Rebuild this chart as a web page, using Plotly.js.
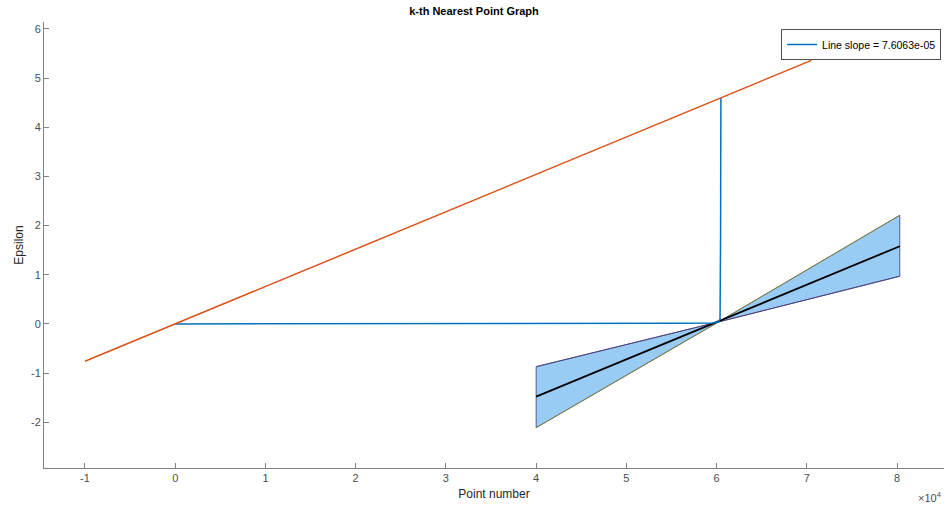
<!DOCTYPE html>
<html>
<head>
<meta charset="utf-8">
<script src="https://cdn.plot.ly/plotly-3.0.1.min.js"></script>
<style>html,body{margin:0;padding:0;background:#fff;}#chart{width:948px;height:508px;}</style>
</head>
<body>
<div id="chart"></div>
<script>
// k-distance curve (sorted)
const kdistX = [0, 20000, 40000, 40100, 55000, 59500, 60200, 60380, 60400, 60420, 60440, 60460, 60480];
const kdistY = [0, 0.0, 0.0, 0.01, 0.015, 0.02, 0.04, 0.1, 0.5, 1.7, 1.8, 3.6, 4.6];
// fitted reference line through origin
const slopeLineX = [-10000, 70500];
const slopeLineY = [-0.76, 5.36];
// confidence bow-tie
const fitX = [40000, 80300];
const fitY = [-1.48, 1.58];
const steepX = [40000, 60200, 80300];
const steepY = [-2.11, 0.04, 2.21];
const shallowX = [40000, 60200, 80300];
const shallowY = [-0.87, 0.04, 0.97];
const leftWingX = [40000, 40000, 60200, 40000];
const leftWingY = [-0.87, -2.11, 0.04, -0.87];
const rightWingX = [80300, 80300, 60200, 80300];
const rightWingY = [2.21, 0.97, 0.04, 2.21];
const legendLabel = 'Line slope = 7.6063e-05';
const xTickVals = [-10000, 0, 10000, 20000, 30000, 40000, 50000, 60000, 70000, 80000];
const xTickText = ['-1', '0', '1', '2', '3', '4', '5', '6', '7', '8'];
const yTickVals = [-2, -1, 0, 1, 2, 3, 4, 5, 6];
const yTickText = ['-2', '-1', '0', '1', '2', '3', '4', '5', '6'];

const fillCol = 'rgb(153,204,245)';
const traces = [
  {x: leftWingX, y: leftWingY, mode: 'lines', fill: 'toself', fillcolor: fillCol,
   line: {color: '#3a3a6a', width: 0.8}, showlegend: false, hoverinfo: 'skip'},
  {x: rightWingX, y: rightWingY, mode: 'lines', fill: 'toself', fillcolor: fillCol,
   line: {color: '#3a3a6a', width: 0.8}, showlegend: false, hoverinfo: 'skip'},
  {x: steepX, y: steepY, mode: 'lines', line: {color: '#8a8a30', width: 0.8}, showlegend: false},
  {x: shallowX, y: shallowY, mode: 'lines', line: {color: '#4a3a7a', width: 0.8}, showlegend: false},
  {x: fitX, y: fitY, mode: 'lines', line: {color: '#000000', width: 1.8}, showlegend: false},
  {x: kdistX, y: kdistY, mode: 'lines', name: legendLabel, line: {color: '#0072BD', width: 1.5}},
  {x: slopeLineX, y: slopeLineY, mode: 'lines', line: {color: '#D95319', width: 1.5}, showlegend: false}
];

const axisCol = '#808080';
const layout = {
  width: 948, height: 508,
  margin: {l: 44, r: 4, t: 22, b: 40},
  paper_bgcolor: '#fff', plot_bgcolor: '#fff',
  font: {family: 'Liberation Sans, Arial, sans-serif', size: 11, color: '#4d4d4d'},
  title: {text: '<b>k-th Nearest Point Graph</b>', font: {size: 11, color: '#000'},
          x: 0.5, xanchor: 'center', y: 0.985, yanchor: 'top'},
  xaxis: {range: [-14540, 85200], tickvals: xTickVals, ticktext: xTickText, automargin: false,
          showgrid: false, zeroline: false, showline: true, linecolor: axisCol, linewidth: 1,
          ticks: 'inside', ticklen: 5, tickcolor: axisCol, tickfont: {size: 11, color: '#4d4d4d'},
          title: {text: 'Point number', font: {size: 12, color: '#262626'}, standoff: 6}},
  yaxis: {range: [-2.93, 6.14], tickvals: yTickVals, ticktext: yTickText, automargin: false,
          showgrid: false, zeroline: false, showline: true, linecolor: axisCol, linewidth: 1,
          ticks: 'inside', ticklen: 5, tickcolor: axisCol, tickfont: {size: 11, color: '#4d4d4d'},
          title: {text: 'Epsilon', font: {size: 12, color: '#262626'}, standoff: 4}},
  legend: {x: 0.997, y: 0.984, xanchor: 'right', yanchor: 'top', bgcolor: '#fff',
           bordercolor: '#262626', borderwidth: 0.8, font: {size: 10.5, color: '#000'},
           itemwidth: 30, tracegroupgap: 0},
  annotations: [{text: '×10<sup>4</sup>', xref: 'paper', yref: 'paper', x: 1.0, y: -0.045,
                 xanchor: 'right', yanchor: 'top', showarrow: false, font: {size: 11, color: '#4d4d4d'}}],
  showlegend: true
};
Plotly.newPlot('chart', traces, layout, {displayModeBar: false, staticPlot: true});
</script>
</body>
</html>
